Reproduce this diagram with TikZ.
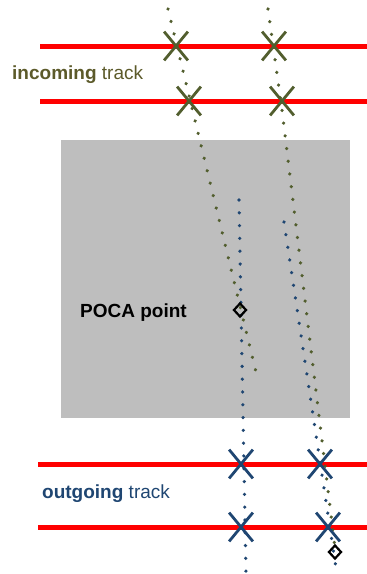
\documentclass[tikz,border=0pt]{standalone}
\usepackage{fontspec}
\setmainfont{Liberation Sans}
\usetikzlibrary{shapes.misc,shapes.geometric,decorations.markings}
\definecolor{olivetrk}{HTML}{525E2E}
\definecolor{olivetxt}{HTML}{5C5A2A}
\definecolor{bluetrk}{HTML}{1F4672}
\definecolor{detgray}{HTML}{BEBEBE}
\definecolor{detred}{HTML}{FF0000}
\tikzset{
  x=1pt, y=-1pt,
  plane/.style={draw=detred, line width=5pt},
  hitmark/.style={cross out, draw=#1, line width=2.8pt, minimum width=21pt,
    minimum height=26pt, inner sep=0pt},
  trackdots/.style={decoration={markings,
      mark=between positions 0 and 1 step 12.8pt with
        {\fill[#1] (0,0) circle (1.8pt);}},
    decorate},
  pocamark/.style={diamond, draw=black, line width=2.2pt, fill=none,
    minimum width=13pt, minimum height=14pt, inner sep=0pt},
  lbl/.style={font=\fontsize{19}{22}\selectfont, anchor=base west, inner sep=0pt}
}
\begin{document}
\begin{tikzpicture}
\useasboundingbox (0,0) rectangle (367,574);

% volume under study
\fill[detgray] (61,140) rectangle (350,418);

% detector planes
\coordinate (p1a) at (40,46);  \coordinate (p1b) at (367,46);
\coordinate (p2a) at (40,101); \coordinate (p2b) at (367,101);
\coordinate (p3a) at (38,464); \coordinate (p3b) at (367,464);
\coordinate (p4a) at (38,527); \coordinate (p4b) at (367,527);
\draw[plane] (p1a) -- (p1b);
\draw[plane] (p2a) -- (p2b);
\draw[plane] (p3a) -- (p3b);
\draw[plane] (p4a) -- (p4b);

% track end points
\coordinate (inLs) at (168,9);   \coordinate (inLe) at (256,372);
\coordinate (inRs) at (268,9);   \coordinate (inRm) at (282,110);
\coordinate (inRe) at (335,548);
\coordinate (outLs) at (239,200); \coordinate (outLe) at (246,574);
\coordinate (outRs) at (284,222); \coordinate (outRe) at (336,568);

% incoming tracks
\path[trackdots=olivetrk] (inLs) -- (inLe);
\path[trackdots=olivetrk] (inRs) -- (inRm) -- (inRe);
% outgoing tracks
\path[trackdots=bluetrk] (outLs) -- (outLe);
\path[trackdots=bluetrk] (outRs) -- (outRe);

% hits on the planes
\node[hitmark=olivetrk] (h11) at (176,46) {};
\node[hitmark=olivetrk] (h12) at (274,46) {};
\node[hitmark=olivetrk] (h21) at (189,101) {};
\node[hitmark=olivetrk] (h22) at (282,101) {};
\node[hitmark=bluetrk] (h31) at (241,464) {};
\node[hitmark=bluetrk] (h32) at (320,464) {};
\node[hitmark=bluetrk] (h41) at (241,527) {};
\node[hitmark=bluetrk] (h42) at (328,527) {};

% points of closest approach
\node[pocamark] (poca1) at (240,310) {};
\node[pocamark] (poca2) at (335,552) {};

% labels
\node[lbl, text=olivetxt] (inlbl) at (12,79) {\textbf{incoming} track};
\node[lbl, text=bluetrk] (outlbl) at (42,498) {\textbf{outgoing} track};
\node[lbl, text=black] (pocalbl) at (80,317) {\textbf{POCA point}};
\end{tikzpicture}
\end{document}
